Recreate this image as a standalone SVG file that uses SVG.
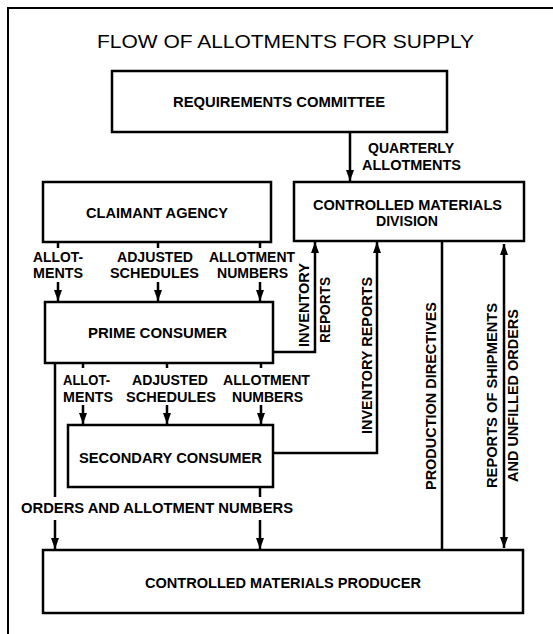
<svg xmlns="http://www.w3.org/2000/svg" width="553" height="634" viewBox="0 0 553 634">
<style>
.box{fill:#fff;stroke:#000;stroke-width:2.5}
.ln{fill:none;stroke:#000;stroke-width:2.5}
.t{font-family:"Liberation Sans",Arial,sans-serif;font-weight:bold;font-size:14px;fill:#000}
.m{text-anchor:middle}
.title{font-family:"Liberation Sans",Arial,sans-serif;font-size:19px;fill:#000;text-anchor:middle}
</style>
<defs>
<marker id="ah" markerUnits="userSpaceOnUse" markerWidth="12" markerHeight="9" refX="11" refY="4" orient="auto-start-reverse">
<path d="M0,0 L11,4 L0,8 z" fill="#000"/>
</marker>
</defs>
<rect width="553" height="634" fill="#fff"/>
<path d="M8,634 L8,8 L553,8" fill="none" stroke="#000" stroke-width="2"/>
<text class="title" x="285.5" y="48" textLength="377" lengthAdjust="spacingAndGlyphs">FLOW OF ALLOTMENTS FOR SUPPLY</text>

<g id="connectors">
<line class="ln" x1="350" y1="132" x2="350" y2="181" marker-end="url(#ah)"/>
<text class="t" x="368" y="153" textLength="86" lengthAdjust="spacingAndGlyphs">QUARTERLY</text>
<text class="t" x="362" y="170" textLength="99" lengthAdjust="spacingAndGlyphs">ALLOTMENTS</text>

<line class="ln" x1="58" y1="242" x2="58" y2="248"/>
<line class="ln" x1="58" y1="282" x2="58" y2="301" marker-end="url(#ah)"/>
<line class="ln" x1="158" y1="242" x2="158" y2="248"/>
<line class="ln" x1="158" y1="282" x2="158" y2="301" marker-end="url(#ah)"/>
<line class="ln" x1="260" y1="242" x2="260" y2="248"/>
<line class="ln" x1="260" y1="282" x2="260" y2="301" marker-end="url(#ah)"/>
<text class="t m" x="58" y="262" textLength="50" lengthAdjust="spacingAndGlyphs">ALLOT-</text>
<text class="t m" x="58" y="278" textLength="50" lengthAdjust="spacingAndGlyphs">MENTS</text>
<text class="t m" x="155" y="262" textLength="76" lengthAdjust="spacingAndGlyphs">ADJUSTED</text>
<text class="t m" x="154.5" y="278" textLength="89" lengthAdjust="spacingAndGlyphs">SCHEDULES</text>
<text class="t m" x="252" y="262" textLength="86" lengthAdjust="spacingAndGlyphs">ALLOTMENT</text>
<text class="t m" x="252.5" y="278" textLength="71" lengthAdjust="spacingAndGlyphs">NUMBERS</text>

<line class="ln" x1="83" y1="363" x2="83" y2="368"/>
<line class="ln" x1="83" y1="405" x2="83" y2="424" marker-end="url(#ah)"/>
<line class="ln" x1="167" y1="363" x2="167" y2="368"/>
<line class="ln" x1="167" y1="405" x2="167" y2="424" marker-end="url(#ah)"/>
<line class="ln" x1="261" y1="363" x2="261" y2="368"/>
<line class="ln" x1="261" y1="405" x2="261" y2="424" marker-end="url(#ah)"/>
<text class="t m" x="86.5" y="385" textLength="47" lengthAdjust="spacingAndGlyphs">ALLOT-</text>
<text class="t m" x="88" y="402" textLength="50" lengthAdjust="spacingAndGlyphs">MENTS</text>
<text class="t m" x="170" y="385" textLength="76" lengthAdjust="spacingAndGlyphs">ADJUSTED</text>
<text class="t m" x="171" y="402" textLength="90" lengthAdjust="spacingAndGlyphs">SCHEDULES</text>
<text class="t m" x="266.5" y="385" textLength="87" lengthAdjust="spacingAndGlyphs">ALLOTMENT</text>
<text class="t m" x="267.5" y="402" textLength="71" lengthAdjust="spacingAndGlyphs">NUMBERS</text>

<polyline class="ln" points="273,352 315,352 315,242" marker-end="url(#ah)"/>
<text class="t m" transform="translate(309,305) rotate(-90)" textLength="84" lengthAdjust="spacingAndGlyphs">INVENTORY</text>
<text class="t m" transform="translate(330,310) rotate(-90)" textLength="66" lengthAdjust="spacingAndGlyphs">REPORTS</text>

<polyline class="ln" points="273,453 377,453 377,242" marker-end="url(#ah)"/>
<text class="t m" transform="translate(372,355.5) rotate(-90)" textLength="157" lengthAdjust="spacingAndGlyphs">INVENTORY REPORTS</text>

<line class="ln" x1="442" y1="241" x2="442" y2="551"/>
<text class="t m" transform="translate(436,396) rotate(-90)" textLength="188" lengthAdjust="spacingAndGlyphs">PRODUCTION DIRECTIVES</text>

<line class="ln" x1="504" y1="244" x2="504" y2="548" marker-start="url(#ah)" marker-end="url(#ah)"/>
<text class="t m" transform="translate(497,395.5) rotate(-90)" textLength="185" lengthAdjust="spacingAndGlyphs">REPORTS OF SHIPMENTS</text>
<text class="t m" transform="translate(518,395.5) rotate(-90)" textLength="173" lengthAdjust="spacingAndGlyphs">AND UNFILLED ORDERS</text>

<line class="ln" x1="55" y1="363" x2="55" y2="497"/>
<line class="ln" x1="55" y1="520" x2="55" y2="549" marker-end="url(#ah)"/>
<line class="ln" x1="260" y1="487" x2="260" y2="497"/>
<line class="ln" x1="260" y1="520" x2="260" y2="549" marker-end="url(#ah)"/>
<text class="t" x="21" y="513" textLength="272" lengthAdjust="spacingAndGlyphs">ORDERS AND ALLOTMENT NUMBERS</text>
</g>

<g id="requirements-committee">
<rect class="box" x="112" y="71" width="335" height="61"/>
<text class="t m" x="279" y="107" textLength="212" lengthAdjust="spacingAndGlyphs">REQUIREMENTS COMMITTEE</text>
</g>
<g id="claimant-agency">
<rect class="box" x="43" y="182" width="228" height="60"/>
<text class="t m" x="157" y="218" textLength="142" lengthAdjust="spacingAndGlyphs">CLAIMANT AGENCY</text>
</g>
<g id="controlled-materials-division">
<rect class="box" x="294" y="182" width="230" height="59"/>
<text class="t m" x="407.5" y="210" textLength="189" lengthAdjust="spacingAndGlyphs">CONTROLLED MATERIALS</text>
<text class="t m" x="407" y="226" textLength="62" lengthAdjust="spacingAndGlyphs">DIVISION</text>
</g>
<g id="prime-consumer">
<rect class="box" x="45" y="302" width="228" height="61"/>
<text class="t m" x="157.5" y="338" textLength="139" lengthAdjust="spacingAndGlyphs">PRIME CONSUMER</text>
</g>
<g id="secondary-consumer">
<rect class="box" x="68" y="425" width="205" height="62"/>
<text class="t m" x="170.5" y="463" textLength="183" lengthAdjust="spacingAndGlyphs">SECONDARY CONSUMER</text>
</g>
<g id="controlled-materials-producer">
<rect class="box" x="43" y="550" width="480" height="63"/>
<text class="t m" x="283" y="588" textLength="276" lengthAdjust="spacingAndGlyphs">CONTROLLED MATERIALS PRODUCER</text>
</g>
</svg>
